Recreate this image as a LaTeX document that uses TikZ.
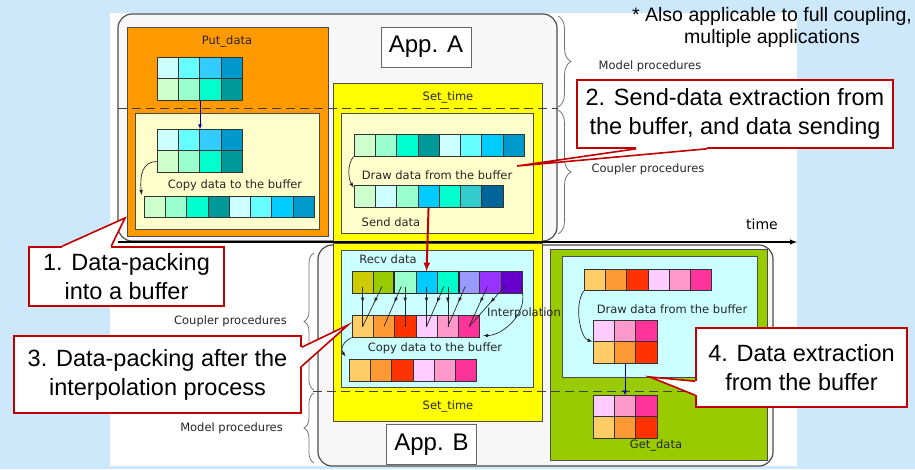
\documentclass[tikz,border=0pt]{standalone}
\usepackage{fontspec}
\setmainfont{Liberation Sans}
\newfontfamily\labelfont{DejaVu Sans}
\usetikzlibrary{shapes,decorations,decorations.pathreplacing,decorations.markings,positioning,arrows,calc}
\definecolor{bgblue}{HTML}{CCE8FA}
\definecolor{putorange}{HTML}{FF9900}
\definecolor{paleyellow}{HTML}{FFFFCC}
\definecolor{setyellow}{HTML}{FFFF00}
\definecolor{palecyan}{HTML}{CCFFFF}
\definecolor{getgreen}{HTML}{99CC00}
\definecolor{calloutred}{HTML}{C00000}
\definecolor{navyarrow}{HTML}{000080}
% cell colours
\definecolor{cy1}{HTML}{CCFFFF}
\definecolor{cy2}{HTML}{66FFFF}
\definecolor{cy3}{HTML}{33CCFF}
\definecolor{cy4}{HTML}{0099CC}
\definecolor{cy5}{HTML}{00CCFF}
\definecolor{gr1}{HTML}{CCFFCC}
\definecolor{gr2}{HTML}{99FFCC}
\definecolor{gr3}{HTML}{00FFCC}
\definecolor{gr4}{HTML}{009999}
\definecolor{gr5}{HTML}{33CCCC}
\definecolor{gr6}{HTML}{006699}
\definecolor{rv1}{HTML}{CCCC00}
\definecolor{rv2}{HTML}{99CC00}
\definecolor{rv6}{HTML}{9999FF}
\definecolor{rv7}{HTML}{9933FF}
\definecolor{rv8}{HTML}{6600CC}
\definecolor{wm1}{HTML}{FFCC66}
\definecolor{wm2}{HTML}{FF9933}
\definecolor{wm3}{HTML}{FF3300}
\definecolor{wm4}{HTML}{FFCCFF}
\definecolor{wm5}{HTML}{FF99CC}
\definecolor{wm6}{HTML}{FF3399}
\tikzstyle{cell} = [draw=black!80, inner sep=0pt, minimum width=21.3pt, minimum height=21.3pt, line width=0.8pt]
\tikzstyle{app} = [draw=black!70, fill=black!3, line width=1.2pt, rounded corners=14pt]
\tikzstyle{box} = [draw=black!70, line width=0.8pt]
\tikzstyle{tag} = [font=\labelfont\fontsize{11.5}{13}\selectfont, text=black!85, inner sep=0pt]
\tikzstyle{appname} = [draw=black!60, fill=white, line width=0.8pt, minimum width=90pt, minimum height=40pt, inner sep=0pt, font=\fontsize{24}{28}\selectfont]
\tikzstyle{callout} = [draw=calloutred, fill=white, line width=1.6pt, align=center, inner sep=0pt, font=\fontsize{23.5}{29}\selectfont]
\tikzstyle{flow} = [->, >=latex, black!85, line width=0.7pt]
\tikzstyle{midflow} = [black!85, line width=0.7pt, postaction={decorate}, decoration={markings, mark=at position 0.4 with {\arrow{latex}}}]
\tikzstyle{brace} = [decorate, decoration={brace, amplitude=13pt}, black!55, line width=0.8pt]
\tikzstyle{sep} = [dash pattern=on 9pt off 5pt, black!75, line width=0.9pt]
\newcommand{\cellRow}[4]{
  % one row of buffer cells, named #1-1, #1-2, ...
  \foreach \col [count=\i] in {#4}
    \node[cell, fill=\col] (#1-\i) at ({#2+(\i-0.5)*21.3},#3) {};
}
\newcommand{\pointer}[4]{
  % wedge of a callout: base, tip, base, inward shift
  \fill[white] (#1) -- (#2) -- (#3) -- ($(#3)+(#4)$) -- ($(#1)+(#4)$) -- cycle;
  \draw[calloutred, line width=1.6pt] (#1) -- (#2) -- (#3);
}

\begin{document}
\begin{tikzpicture}[x=1pt, y=-1pt]
  \useasboundingbox (0,0) rectangle (915,469);
  \fill[bgblue] (0,0) rectangle (915,469);
  \fill[white] (110,13) rectangle (797,466);

  % applications
  \draw[app] (118,14) rectangle (557,241);
  \draw[app] (318,245) rectangle (773,466);

  % App. A blocks
  \draw[box, fill=putorange] (127,27) rectangle (328,236);
  \draw[box, fill=paleyellow] (135,113) rectangle (319,229);
  \draw[box, fill=setyellow] (333,83) rectangle (542,243);
  \draw[box, fill=paleyellow] (341,113) rectangle (533,233);

  % App. B blocks
  \draw[box, fill=setyellow] (333,243) rectangle (542,421);
  \draw[box, fill=palecyan] (341,250) rectangle (533,387);
  \draw[box, fill=getgreen] (550,249) rectangle (767,460);
  \draw[box, fill=palecyan] (562,256) rectangle (757,377);

  \node[appname] (appA) at (426,47) {App. A};
  \node[appname] (appB) at (431.5,444.5) {App. B};

  % model / coupler border
  \draw[sep] (118,108) -- (558,108);
  \draw[sep] (313,391) -- (772,391);

  % time axis
  \coordinate (t0) at (118,242);
  \coordinate (t1) at (797,242);
  \draw[->, >=latex, line width=1.4pt] (t0) -- (t1);
  \node[tag, font=\labelfont\fontsize{14}{16}\selectfont, text=black] (timeLbl) at (762,224) {time};

  % procedure braces
  \draw[brace] (558,16) -- (558,107);
  \draw[brace] (558,110) -- (558,234);
  \draw[brace, decoration={amplitude=10pt}] (314,390) -- (314,253);
  \draw[brace, decoration={amplitude=10pt}] (314,463) -- (314,393);
  \node[tag] (modelA) at (650,66) {Model procedures};
  \node[tag] (couplerA) at (648,169) {Coupler procedures};
  \node[tag, anchor=east] (couplerB) at (287,321) {Coupler procedures};
  \node[tag, anchor=east] (modelB) at (283,428) {Model procedures};

  % Put_data
  \node[tag] (putLbl) at (227,41) {Put\_data};
  \cellRow{put1}{157}{68.5}{cy1,cy2,cy3,cy4}
  \cellRow{put2}{157}{89.5}{gr1,gr2,gr3,gr4}
  \cellRow{copyA1}{157}{140.5}{cy1,cy2,cy3,cy4}
  \cellRow{copyA2}{157}{161.5}{gr1,gr2,gr3,gr4}
  \node[tag] (copyLblA) at (235,185) {Copy data to the buffer};
  \cellRow{bufA}{144}{207}{gr1,gr2,gr3,gr4,cy1,cy2,cy5,cy4}
  \draw[->, >=latex, navyarrow, line width=0.8pt] (put2-2.south east) -- (copyA1-2.north east);
  \draw[flow] (copyA2-1.west) .. controls +(-14,0) and +(-2,-20) .. ($(bufA-1.north west)+(-2,-1)$);

  % Set_time, send side
  \node[tag] (setLblA) at (448,97) {Set\_time};
  \cellRow{drawA}{354}{145.5}{gr1,gr2,gr3,gr4,cy1,cy2,cy5,cy4}
  \node[tag] (drawLblA) at (437,175) {Draw data from the buffer};
  \cellRow{sendA}{354}{196.5}{gr1,cy1,gr2,cy5,gr3,gr5,gr6}
  \node[tag] (sendLbl) at (391,222) {Send data};
  \draw[flow] (drawA-1.south west) .. controls +(-7,8) and +(-5,-8) .. ($(sendA-1.west)+(0,-9)$);

  % receive side
  \node[tag] (recvLbl) at (388,259) {Recv data};
  \cellRow{recvB}{352}{282.5}{rv1,rv2,gr2,cy5,gr3,rv6,rv7,rv8}
  \draw[line width=1.6pt, black!85] (recvB-3.north west) rectangle (recvB-5.south east);
  \cellRow{interpB}{352}{326.5}{wm1,wm2,wm3,wm4,wm5,wm6}
  \foreach \k/\dx/\j in {1/0/1, 2/-2/1, 3/-4/2, 3/0/3, 4/0/4, 5/-4/4, 5/0/5, 6/-4/5, 7/-3/6, 8/-7/6}
    \draw[midflow] ($(recvB-\k.center)+(\dx,4)$) -- (interpB-\j.center);
  \draw[flow] ($(recvB-8.east)+(-2,4)$) .. controls +(10,25) and +(20,0) .. ($(interpB-6.south east)+(3,-2)$);
  \node[tag] (interpLbl) at (524,313) {Interpolation};
  \node[tag] (copyLblB) at (435,348) {Copy data to the buffer};
  \cellRow{bufB}{349}{370.5}{wm1,wm2,wm3,wm4,wm5,wm6}
  \draw[flow] (interpB-1.south west) .. controls +(-8,4) and +(-6,-8) .. ($(bufB-1.north west)+(-3,-3)$);
  \node[tag] (setLblB) at (448,406) {Set\_time};
  \draw[->, >=latex, calloutred, line width=2pt] (sendA-4.south) -- (recvB-4.north);

  % Get_data
  \cellRow{drawB}{584}{280}{wm1,wm2,wm3,wm4,wm5,wm6}
  \node[tag] (drawLblB) at (672,309) {Draw data from the buffer};
  \cellRow{gridB1}{593}{331.5}{wm4,wm5,wm6}
  \cellRow{gridB2}{593}{352.5}{wm1,wm2,wm3}
  \cellRow{getB1}{593}{406.5}{wm4,wm5,wm6}
  \cellRow{getB2}{593}{427.5}{wm1,wm2,wm3}
  \node[tag] (getLbl) at (656,445) {Get\_data};
  \draw[flow] (drawB-1.south west) .. controls +(-10,15) and +(-12,-3) .. (gridB2-1.north west);
  \draw[->, >=latex, blue!70!black, line width=0.8pt] (gridB2-2.south) -- (getB1-2.north);

  % callouts
  \node[callout, minimum width=195pt, minimum height=59pt] (call1) at (126.5,276.5) {1. Data-packing\\into a buffer};
  \node[callout, minimum width=316pt, minimum height=68pt] (call2) at (735,114) {2. Send-data extraction from\\the buffer, and data sending};
  \node[callout, minimum width=287pt, minimum height=77pt] (call3) at (157.5,374.5) {3. Data-packing after the\\interpolation process};
  \node[callout, minimum width=211pt, minimum height=79pt] (call4) at (801.5,367.5) {4. Data extraction\\from the buffer};
  \coordinate (p1a) at ($(call1.north west)+(34,0)$);
  \coordinate (p1b) at ($(call1.north west)+(83,0)$);
  \coordinate (tip1) at (125,218);
  \pointer{p1a}{tip1}{p1b}{0,3}
  \coordinate (p2a) at ($(call2.south west)+(60,0)$);
  \coordinate (p2b) at ($(call2.south west)+(131,0)$);
  \coordinate (tip2) at (517,166);
  \pointer{p2a}{tip2}{p2b}{0,-3}
  \coordinate (p3a) at ($(call3.north east)+(0,12)$);
  \coordinate (p3b) at ($(call3.north east)+(0,31)$);
  \coordinate (tip3) at (348,325);
  \pointer{p3a}{tip3}{p3b}{-3,0}
  \coordinate (p4a) at ($(call4.north west)+(0,54)$);
  \coordinate (p4b) at ($(call4.north west)+(0,68)$);
  \coordinate (tip4) at (650,377);
  \pointer{p4a}{tip4}{p4b}{3,0}

  \node[align=center, font=\fontsize{19.5}{22}\selectfont] (note) at (772,27) {* Also applicable to full coupling,\\multiple applications};
\end{tikzpicture}
\end{document}
